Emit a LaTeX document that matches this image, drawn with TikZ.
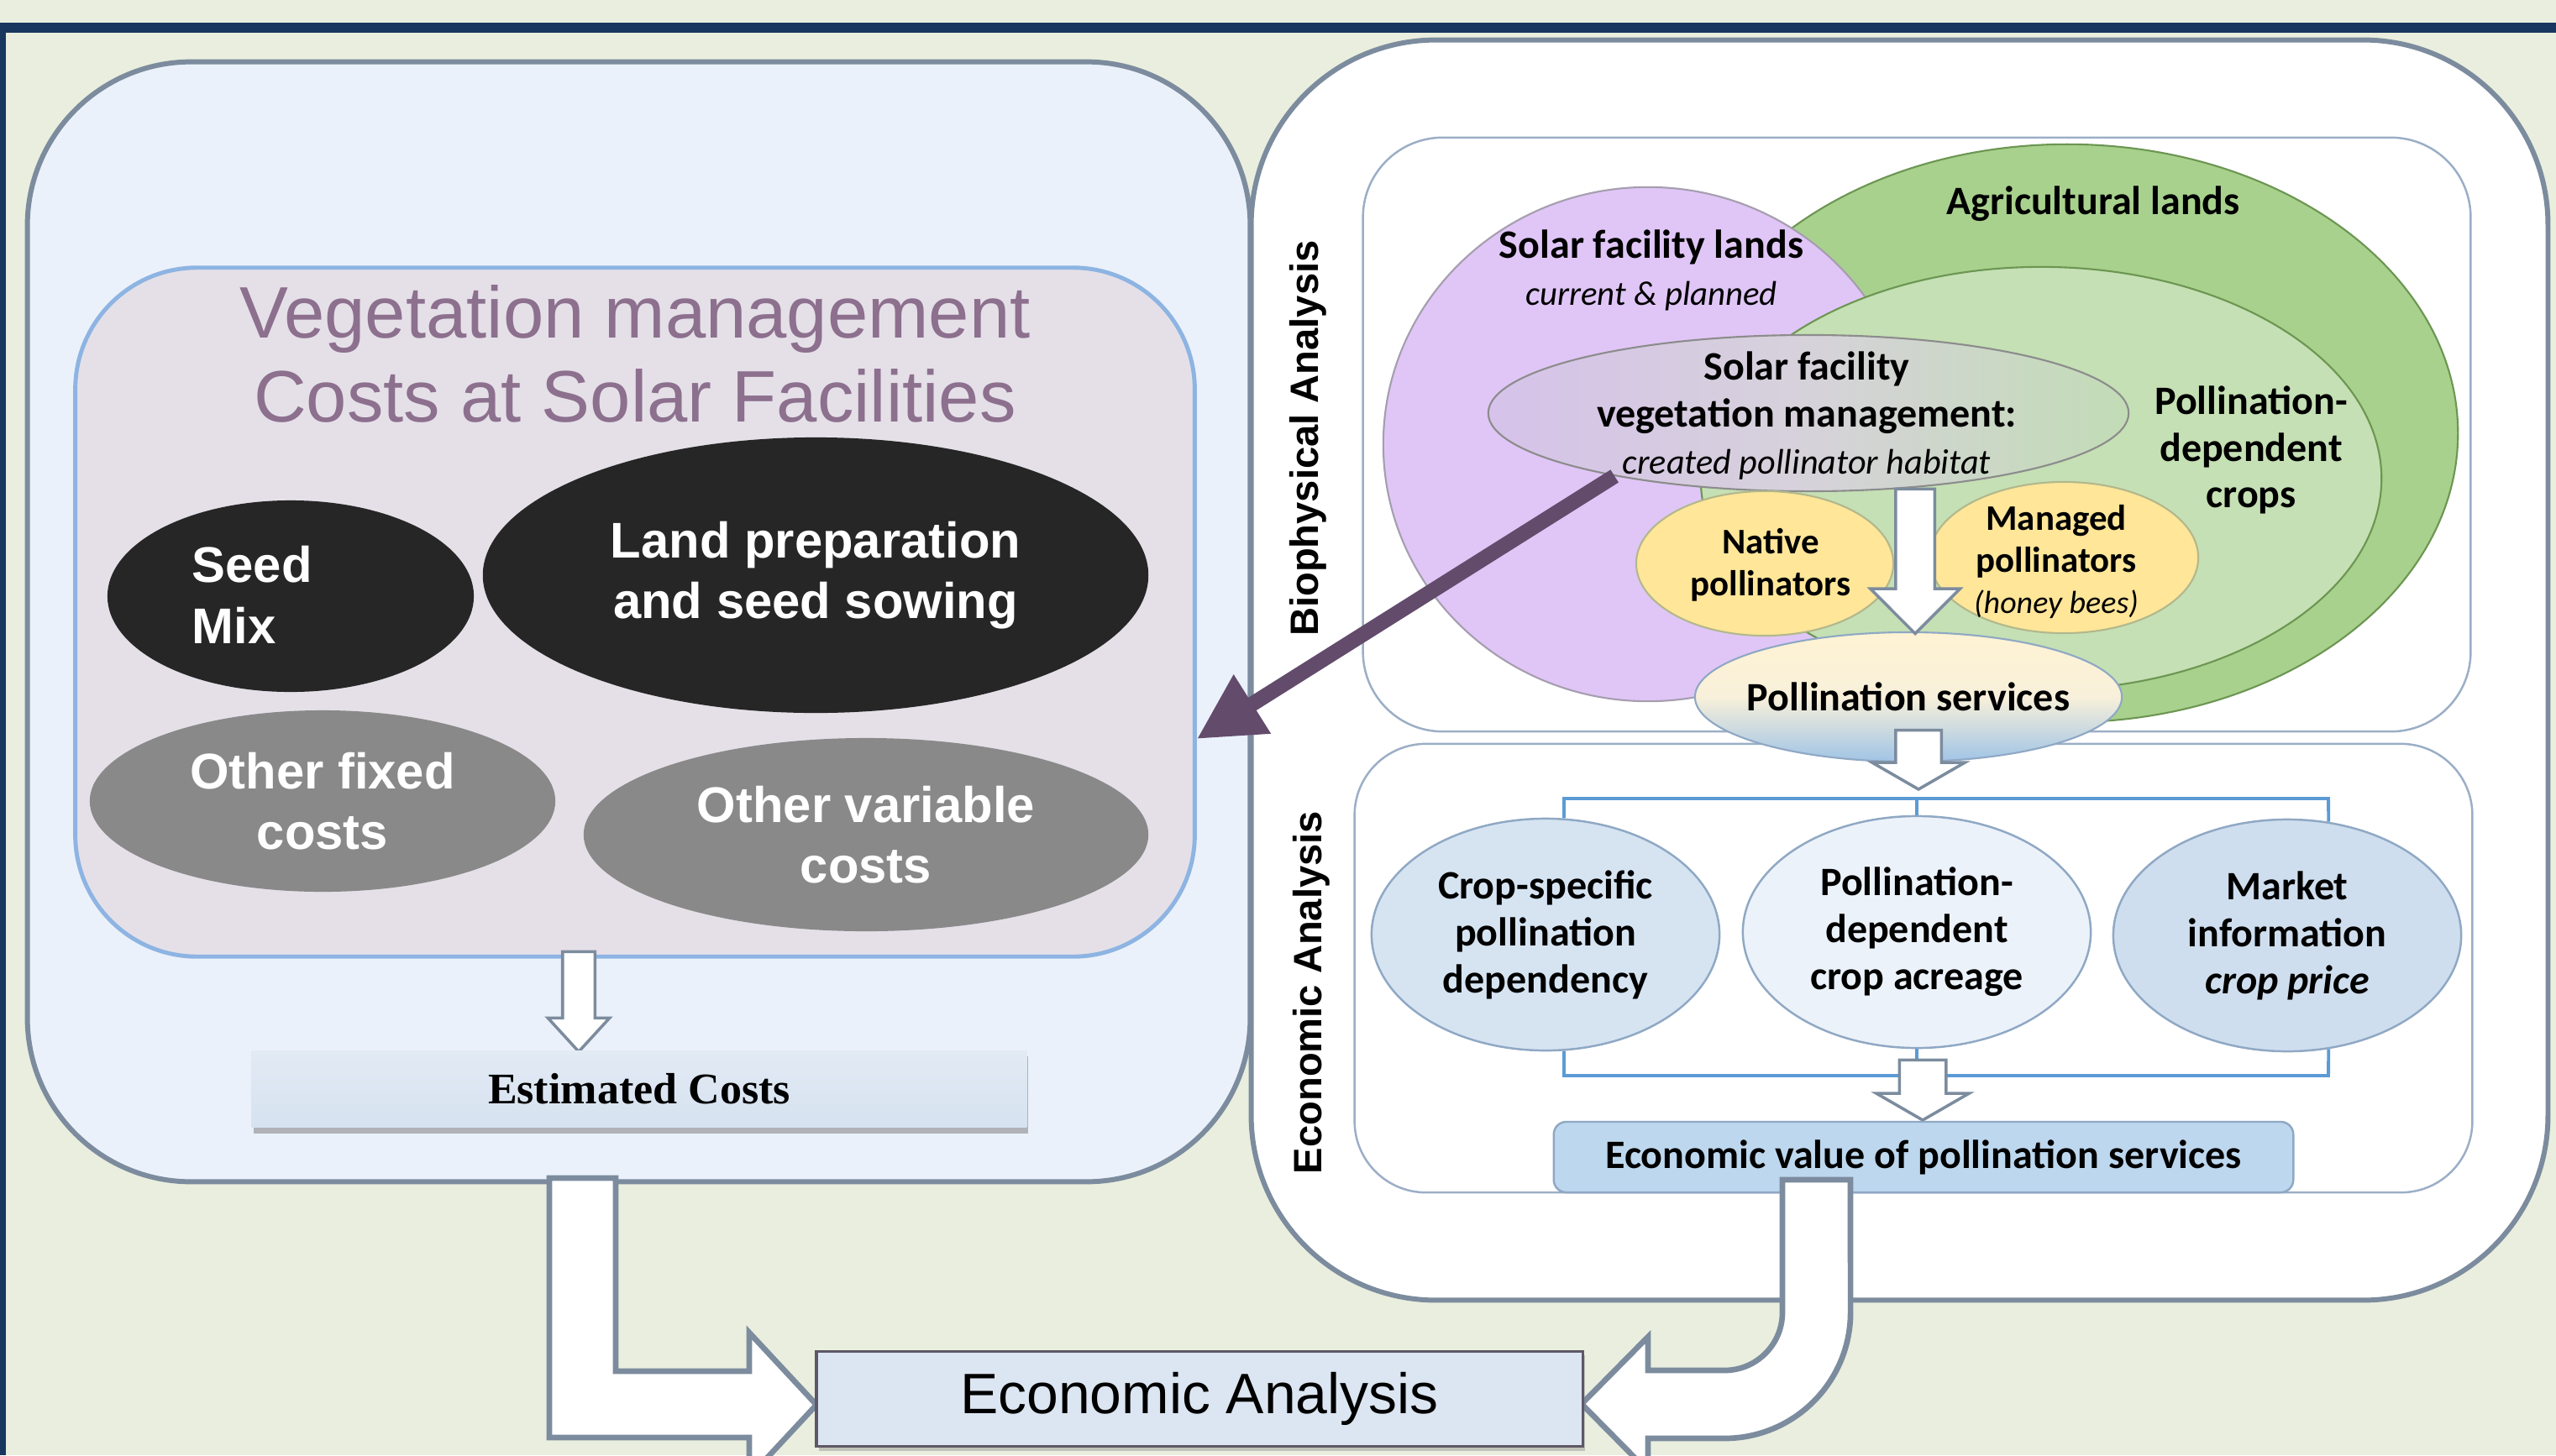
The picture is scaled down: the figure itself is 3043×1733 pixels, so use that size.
\documentclass[tikz,border=0pt]{standalone}
\usepackage{fontspec}
\setmainfont{Liberation Sans}
\newfontfamily\calibri{Carlito}
\newfontfamily\timesfont{Liberation Serif}
\usetikzlibrary{shapes.geometric,shapes.arrows,shadows,arrows.meta}
\definecolor{pagebg}{RGB}{234,238,222}
\definecolor{navy}{RGB}{24,54,94}
\definecolor{panelline}{RGB}{124,140,158}
\definecolor{panelfill}{RGB}{235,241,250}
\definecolor{costfill}{RGB}{229,224,232}
\definecolor{costline}{RGB}{141,180,226}
\definecolor{titlemauve}{RGB}{140,112,142}
\definecolor{darkoval}{RGB}{38,38,38}
\definecolor{greyoval}{RGB}{137,137,137}
\definecolor{boxline}{RGB}{155,174,198}
\definecolor{solarpurple}{RGB}{224,198,246}
\definecolor{lavline}{RGB}{165,158,175}
\definecolor{aggreen}{RGB}{169,209,142}
\definecolor{cropgreen}{RGB}{197,224,180}
\definecolor{greenline}{RGB}{108,150,82}
\definecolor{hableft}{RGB}{214,194,234}
\definecolor{habmid}{RGB}{214,210,218}
\definecolor{habright}{RGB}{194,220,182}
\definecolor{beeyellow}{RGB}{255,230,153}
\definecolor{beeline}{RGB}{178,184,140}
\definecolor{svcyellow}{RGB}{255,243,212}
\definecolor{svcmid}{RGB}{248,240,218}
\definecolor{svcblue}{RGB}{160,196,230}
\definecolor{econline}{RGB}{143,168,196}
\definecolor{econfill}{RGB}{214,228,242}
\definecolor{econlight}{RGB}{236,242,250}
\definecolor{econdeep}{RGB}{207,222,238}
\definecolor{valuefill}{RGB}{189,215,238}
\definecolor{feedblue}{RGB}{91,155,213}
\definecolor{habitatpurple}{RGB}{99,75,108}
\definecolor{estimatetop}{RGB}{226,234,244}
\definecolor{estimatebot}{RGB}{214,226,240}
\definecolor{resultfill}{RGB}{220,230,242}
\definecolor{resultline}{RGB}{94,88,102}
\tikzset{
    panel/.style={rectangle, draw=panelline, line width=1.7pt, inner sep=0pt},
    subpanel/.style={rectangle, draw=boxline, line width=0.7pt, fill=white, inner sep=0pt},
    sidelabel/.style={rotate=90, inner sep=0pt, font=\bfseries\fontsize{13.4}{16}\selectfont},
    costoval/.style={ellipse, inner sep=0pt, align=center, text=white, font=\bfseries\fontsize{17}{20.6}\selectfont},
    land/.style={ellipse, inner sep=0pt, line width=0.6pt},
    lbl/.style={inner sep=0pt, align=center, font=\calibri\bfseries\fontsize{13.66}{15.8}\selectfont},
    beelbl/.style={inner sep=0pt, align=center, font=\calibri\bfseries\fontsize{12.2}{14.2}\selectfont},
    econoval/.style={ellipse, draw=econline, line width=0.7pt, inner sep=0pt, minimum width=4.14cm, minimum height=2.76cm, align=center, font=\calibri\bfseries\fontsize{13.66}{15.9}\selectfont},
    flowarrow/.style={single arrow, draw=panelline, line width=1pt, fill=white, shape border rotate=270, anchor=tip},
    feed/.style={draw=feedblue, line width=1.1pt},
    bigarrow/.style={draw=panelline, line width=1.9pt, fill=white, line join=miter},
    habitatlink/.style={draw=habitatpurple, line width=5.1pt, -{Triangle[length=0.78cm, width=0.78cm]}},
}

\begin{document}
\begin{tikzpicture}[x=0.01cm, y=-0.01cm]
    % page and frame
    \useasboundingbox (0,0) rectangle (3043,1733);
    \fill[pagebg] (0,0) rectangle (3043,1733);
    \fill[navy] (0,27) rectangle (3043,39);
    \fill[navy] (0,27) rectangle (7,1733);

    % the two panels
    \node[panel, fill=white, rounded corners=2.2cm, minimum width=15.43cm, minimum height=15.00cm] (fieldpanel) at (2261.5,798) {};
    \node[panel, fill=panelfill, rounded corners=1.95cm, minimum width=14.55cm, minimum height=13.33cm] (costpanel) at (760.5,740.5) {};

    % cost side
    \node[rectangle, draw=costline, line width=1.4pt, fill=costfill, rounded corners=1.45cm, minimum width=13.32cm, minimum height=8.20cm, inner sep=0pt] (costbox) at (756,729) {};
    \node[inner sep=0pt, align=center, text=titlemauve, font=\fontsize{24.7}{28.5}\selectfont] (costtitle) at (756,421.5) {Vegetation management\\Costs at Solar Facilities};
    \node[costoval, fill=darkoval, minimum width=4.36cm, minimum height=2.28cm] (seedmix) at (346,710) {};
    \node[inner sep=0pt, align=left, anchor=west, text=white, font=\bfseries\fontsize{17}{20.8}\selectfont] (seedmixtxt) at (228,708.5) {Seed\\Mix};
    \node[costoval, fill=darkoval, minimum width=7.92cm, minimum height=3.28cm] (landprep) at (971,685) {Land preparation\\and seed sowing};
    \node[costoval, fill=greyoval, minimum width=5.54cm, minimum height=2.16cm] (fixedcost) at (384,954) {Other fixed\\costs};
    \node[costoval, fill=greyoval, minimum width=6.72cm, minimum height=2.30cm] (varcost) at (1031,994) {Other variable\\costs};

    % inner boxes on the right
    \node[subpanel, rounded corners=0.95cm, minimum width=13.18cm, minimum height=7.07cm] (biobox) at (2282,517.5) {};
    \node[subpanel, rounded corners=0.85cm, minimum width=13.30cm, minimum height=5.34cm] (econbox) at (2278,1153) {};
    \node[sidelabel] (biolbl) at (1557,522) {Biophysical Analysis};
    \node[sidelabel] (econlbl) at (1561,1182) {Economic Analysis};

    % land use ovals
    \node[land, draw=greenline, fill=aggreen, minimum width=9.30cm, minimum height=6.88cm] (aglands) at (2461,516) {};
    \node[land, draw=lavline, fill=solarpurple, minimum width=6.30cm, minimum height=6.12cm] (solarlands) at (1962,529) {};
    \node[land, draw=greenline, fill=cropgreen, minimum width=8.10cm, minimum height=5.04cm] (pdcrops) at (2430,570) {};
    \node[land, draw=black!45, left color=hableft, right color=habright, middle color=habmid, minimum width=7.62cm, minimum height=1.86cm] (habitat) at (2153,492) {};
    \node[land, draw=beeline, fill=beeyellow, minimum width=3.06cm, minimum height=1.72cm] (native) at (2101,671) {};
    \node[land, draw=beeline, fill=beeyellow, minimum width=3.20cm, minimum height=1.80cm] (managed) at (2457,664) {};
    \node[land, draw=econline, top color=svcyellow, bottom color=svcblue, middle color=svcmid, minimum width=5.08cm, minimum height=1.54cm] (services) at (2272,830) {};

    \node[lbl] (agtxt) at (2492,243) {Agricultural lands};
    \node[lbl] (solartxt) at (1966,322) {Solar facility lands\\{\mdseries\itshape\fontsize{11.6}{14}\selectfont current \& planned}};
    \node[lbl] (habitattxt) at (2151,495) {Solar facility\\vegetation management:\\{\mdseries\itshape\fontsize{12}{14}\selectfont created pollinator habitat}};
    \node[lbl] (cropstxt) at (2680,536) {Pollination-\\dependent\\crops};
    \node[beelbl] (nativetxt) at (2108,673) {Native\\pollinators};
    \node[beelbl] (managedtxt) at (2448,669) {Managed\\pollinators\\{\mdseries\itshape\fontsize{10.8}{13}\selectfont (honey bees)}};
    \node[lbl] (servicestxt) at (services.center) {Pollination services};

    % flow arrows
    \node[flowarrow, inner sep=0.215cm, single arrow head extend=0.30cm, minimum height=1.72cm] (beearrow) at (2280,757) {};
    \node[flowarrow, inner sep=0.255cm, single arrow head extend=0.28cm, single arrow tip angle=120, minimum height=0.60cm] (svcarrow) at (2284,942) {};

    % economic inputs
    \foreach \name/\xc/\yc/\col/\txt in {
        cropdep/1840/1113/econfill/{Crop-specific\\pollination\\dependency},
        acreage/2282/1110/econlight/{Pollination-\\dependent\\crop acreage},
        price/2723/1114/econdeep/{Market\\information\\\textit{crop price}}} {
        \node[econoval, fill=\col] (\name) at (\xc,\yc) {\txt};
    }
    \coordinate (barR) at (2772,951);
    \coordinate (baseR) at (2772,1281);
    \draw[feed] (cropdep.81) |- (barR) -- (price.70);
    \draw[feed] (acreage.north) -- (acreage.north |- barR);
    \draw[feed] (cropdep.-81) |- (baseR) -- (price.-70);
    \draw[feed] (acreage.south) -- (acreage.south |- baseR);
    \node[flowarrow, inner sep=0.26cm, single arrow head extend=0.275cm, single arrow tip angle=120, minimum height=0.58cm] (valuearrow) at (2289,1336) {};
    \node[rectangle, draw=econline, line width=0.7pt, fill=valuefill, rounded corners=0.15cm, minimum width=8.80cm, minimum height=0.84cm, inner sep=0pt, font=\calibri\bfseries\fontsize{13.66}{15.8}\selectfont] (econvalue) at (2290,1378) {Economic value of pollination services};

    % habitat feeds the cost side
    \coordinate (linkrow) at (0,880);
    \draw[habitatlink] (habitat.198) -- (costbox.east |- linkrow);

    % estimate
    \node[flowarrow, inner sep=0.175cm, single arrow head extend=0.175cm, single arrow tip angle=85, minimum height=1.19cm] (costarrow) at (689,1255) {};
    \node[rectangle, top color=estimatetop, bottom color=estimatebot, drop shadow={shadow xshift=0.02cm, shadow yshift=-0.07cm, opacity=0.55}, minimum width=9.22cm, minimum height=0.91cm, inner sep=0pt, font=\timesfont\bfseries\fontsize{14.8}{17}\selectfont] (estimate) at (761,1297) {Estimated Costs};

    % both sides join
    \draw[bigarrow] (654,1403) -- (733,1403) -- (733,1633) -- (892,1633) -- (892,1587) -- (972,1673) -- (892,1759) -- (892,1712) -- (654,1712) -- cycle;
    \draw[bigarrow] (2122,1405) -- (2122,1563) arc[start angle=0, end angle=-90, radius=0.69cm] -- (1962,1632) -- (1962,1592) -- (1883,1672) -- (1962,1752) -- (1962,1713) -- (2053,1713) arc[start angle=-90, end angle=0, radius=1.5cm] -- (2203,1405) -- cycle;
    \node[rectangle, draw=resultline, line width=1pt, fill=resultfill, drop shadow={shadow xshift=0.03cm, shadow yshift=-0.05cm, opacity=0.4}, minimum width=9.12cm, minimum height=1.13cm, inner sep=0pt, font=\fontsize{19.3}{22}\selectfont] (analysis) at (1428,1666) {Economic Analysis};
\end{tikzpicture}
\end{document}
